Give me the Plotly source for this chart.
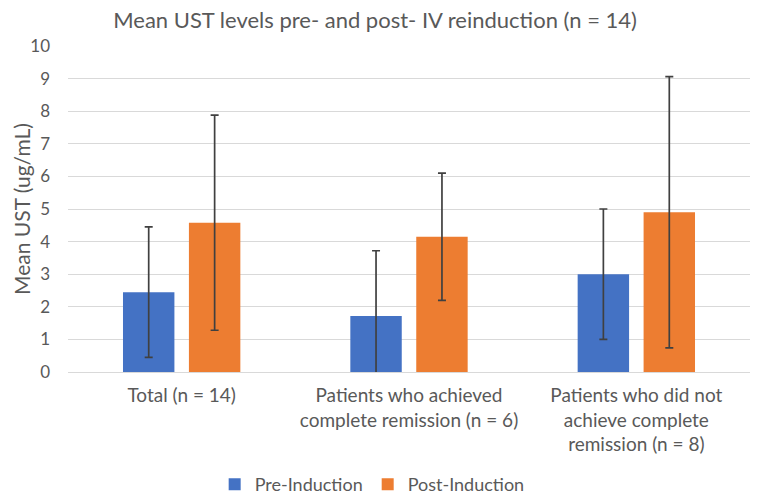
import plotly.graph_objects as go

categories = ["Total (n = 14)",
              "Patients who achieved<br>complete remission (n = 6)",
              "Patients who did not<br>achieve complete<br>remission (n = 8)"]
pre_values = [2.45, 1.72, 3.0]
post_values = [4.58, 4.15, 4.9]
pre_sd = [2.0, 2.0, 2.0]
post_sd = [3.3, 1.95, 4.16]
y_ticks = list(range(0, 11))

FONT = "Lato, 'Open Sans', sans-serif"
GRAY = "#595959"

fig = go.Figure()
fig.add_trace(go.Bar(
    x=categories, y=pre_values, name="Pre-Induction",
    marker=dict(color="#4472C4", line=dict(width=0)),
    error_y=dict(type="data", array=pre_sd, visible=True,
                 color="#404040", thickness=1.7, width=4),
))
fig.add_trace(go.Bar(
    x=categories, y=post_values, name="Post-Induction",
    marker=dict(color="#ED7D31", line=dict(width=0)),
    error_y=dict(type="data", array=post_sd, visible=True,
                 color="#404040", thickness=1.7, width=4),
))

fig.update_layout(
    width=760, height=496,
    paper_bgcolor="white", plot_bgcolor="white",
    margin=dict(l=60, r=18, t=38, b=132, autoexpand=False),
    barmode="group", bargap=0.42, bargroupgap=0.22,
    font=dict(family=FONT, color=GRAY, size=15),
    title=dict(text="Mean UST levels pre- and post- IV reinduction (n = 14)",
               x=0.483, xanchor="center", y=0.99, yanchor="top",
               font=dict(family=FONT, size=22, color=GRAY)),
    legend=dict(orientation="h", x=0.446, xanchor="center", y=-0.345, yanchor="middle",
                font=dict(family=FONT, size=18, color=GRAY),
                itemwidth=30, traceorder="normal"),
    xaxis=dict(showgrid=False, showline=False, ticks="", automargin=False,
               ticklabelstandoff=10,
               tickfont=dict(family=FONT, size=19, color=GRAY)),
    yaxis=dict(range=[0, 10], tickvals=y_ticks, showgrid=True, automargin=False,
               gridcolor="#D9D9D9", gridwidth=1, zeroline=True,
               zerolinecolor="#D9D9D9", zerolinewidth=1,
               showline=False, ticks="", ticklen=0, ticklabelstandoff=17,
               tickfont=dict(family=FONT, size=17, color=GRAY)),
    annotations=[dict(text="Mean UST (ug/mL)", xref="paper", yref="paper",
                      x=-47 / 682, y=0.5, xanchor="center", yanchor="middle",
                      textangle=-90, showarrow=False,
                      font=dict(family=FONT, size=21, color=GRAY))],
)

fig.write_html("out.html")
